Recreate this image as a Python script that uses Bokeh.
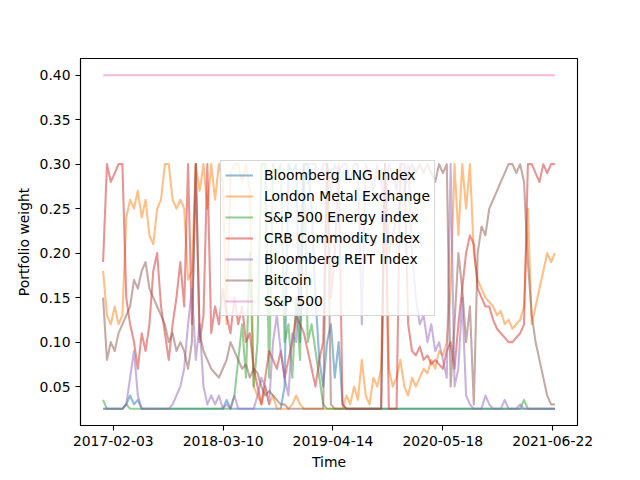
import pandas as pd
from bokeh.plotting import figure
from bokeh.models import (FixedTicker, DatetimeTickFormatter, Legend, LegendItem,
                          Range1d, NumeralTickFormatter)
from bokeh.embed import file_html
from bokeh.resources import INLINE

# ---------------- data ----------------
start_date = "2016-12-28"
end_date = "2021-06-30"
n_points = 118
dates = pd.date_range(start_date, end_date, periods=n_points)

x_tick_labels = ["2017-02-03", "2018-03-10", "2019-04-14", "2020-05-18", "2021-06-22"]
y_tick_values = [0.05, 0.10, 0.15, 0.20, 0.25, 0.30, 0.35, 0.40]

lng = [
    0.025, 0.025, 0.025, 0.025, 0.025, 0.025, 0.03, 0.04, 0.03, 0.035,
    0.025, 0.025, 0.025, 0.025, 0.025, 0.025, 0.025, 0.025, 0.025, 0.025,
    0.025, 0.025, 0.025, 0.025, 0.025, 0.025, 0.025, 0.025, 0.025, 0.025,
    0.025, 0.025, 0.035, 0.025, 0.025, 0.025, 0.025, 0.025, 0.025, 0.025,
    0.025, 0.025, 0.025, 0.025, 0.025, 0.025, 0.025, 0.05, 0.30, 0.29,
    0.30, 0.10, 0.30, 0.30, 0.25, 0.15, 0.08, 0.05, 0.10, 0.12,
    0.06, 0.10, 0.03, 0.025, 0.025, 0.025, 0.025, 0.025, 0.025, 0.025,
    0.025, 0.025, 0.025, 0.025, 0.025, 0.025, 0.025, 0.025, 0.025, 0.025,
    0.025, 0.025, 0.025, 0.025, 0.025, 0.025, 0.025, 0.025, 0.025, 0.025,
    0.025, 0.025, 0.025, 0.025, 0.025, 0.025, 0.025, 0.025, 0.025, 0.025,
    0.025, 0.025, 0.025, 0.025, 0.025, 0.025, 0.025, 0.025, 0.025, 0.025,
    0.025, 0.025, 0.025, 0.025, 0.025, 0.025, 0.025, 0.025,
]

lme = [
    0.18, 0.13, 0.12, 0.14, 0.12, 0.13, 0.24, 0.26, 0.25, 0.27,
    0.24, 0.26, 0.22, 0.21, 0.25, 0.26, 0.30, 0.30, 0.26, 0.25,
    0.26, 0.25, 0.17, 0.18, 0.30, 0.27, 0.30, 0.25, 0.30, 0.26,
    0.30, 0.28, 0.12, 0.29, 0.30, 0.30, 0.28, 0.30, 0.27, 0.05,
    0.04, 0.03, 0.05, 0.03, 0.04, 0.025, 0.025, 0.025, 0.025, 0.03,
    0.04, 0.03, 0.025, 0.025, 0.025, 0.025, 0.025, 0.025, 0.025, 0.025,
    0.025, 0.025, 0.025, 0.04, 0.03, 0.05, 0.035, 0.08, 0.04, 0.03,
    0.06, 0.05, 0.07, 0.30, 0.07, 0.05, 0.06, 0.08, 0.05, 0.04,
    0.06, 0.05, 0.06, 0.07, 0.065, 0.08, 0.07, 0.09, 0.085, 0.10,
    0.16, 0.30, 0.22, 0.30, 0.25, 0.30, 0.20, 0.17, 0.16, 0.15,
    0.145, 0.14, 0.13, 0.135, 0.12, 0.125, 0.115, 0.12, 0.125, 0.14,
    0.25, 0.12, 0.14, 0.16, 0.18, 0.20, 0.19, 0.20,
]

energy = [
    0.035, 0.025, 0.025, 0.025, 0.025, 0.025, 0.03, 0.025, 0.025, 0.025,
    0.025, 0.025, 0.025, 0.025, 0.025, 0.025, 0.025, 0.025, 0.025, 0.025,
    0.025, 0.025, 0.025, 0.025, 0.025, 0.025, 0.025, 0.025, 0.025, 0.025,
    0.025, 0.025, 0.025, 0.025, 0.04, 0.08, 0.12, 0.06, 0.20, 0.05,
    0.10, 0.30, 0.30, 0.06, 0.30, 0.29, 0.30, 0.10, 0.12, 0.06,
    0.15, 0.08, 0.30, 0.10, 0.12, 0.09, 0.06, 0.03, 0.025, 0.025,
    0.025, 0.025, 0.025, 0.025, 0.025, 0.025, 0.025, 0.025, 0.025, 0.025,
    0.025, 0.025, 0.025, 0.025, 0.025, 0.025, 0.025, 0.025, 0.025, 0.025,
    0.025, 0.025, 0.025, 0.025, 0.025, 0.025, 0.025, 0.025, 0.025, 0.025,
    0.025, 0.025, 0.025, 0.025, 0.025, 0.025, 0.025, 0.025, 0.025, 0.025,
    0.025, 0.025, 0.025, 0.025, 0.025, 0.025, 0.025, 0.025, 0.025, 0.035,
    0.025, 0.025, 0.025, 0.025, 0.025, 0.025, 0.025, 0.025,
]

crb = [
    0.19, 0.30, 0.28, 0.29, 0.30, 0.30, 0.15, 0.12, 0.10, 0.07,
    0.11, 0.09, 0.12, 0.18, 0.20, 0.14, 0.11, 0.08, 0.12, 0.15,
    0.19, 0.14, 0.30, 0.12, 0.30, 0.10, 0.13, 0.30, 0.11, 0.14,
    0.12, 0.16, 0.13, 0.11, 0.15, 0.12, 0.14, 0.10, 0.11, 0.07,
    0.05, 0.03, 0.06, 0.09, 0.08, 0.07, 0.09, 0.06, 0.08, 0.10,
    0.13, 0.12, 0.11, 0.09, 0.07, 0.05, 0.08, 0.10, 0.30, 0.15,
    0.20, 0.30, 0.03, 0.025, 0.025, 0.025, 0.025, 0.025, 0.025, 0.025,
    0.025, 0.025, 0.025, 0.30, 0.025, 0.025, 0.025, 0.30, 0.30, 0.12,
    0.09, 0.085, 0.095, 0.08, 0.085, 0.075, 0.08, 0.075, 0.07, 0.09,
    0.10, 0.07, 0.12, 0.16, 0.20, 0.22, 0.21, 0.16, 0.15, 0.14,
    0.14, 0.125, 0.115, 0.11, 0.105, 0.10, 0.10, 0.105, 0.11, 0.12,
    0.30, 0.30, 0.29, 0.28, 0.30, 0.29, 0.30, 0.30,
]

reit = [
    0.025, 0.025, 0.025, 0.025, 0.025, 0.025, 0.03, 0.06, 0.09, 0.04,
    0.025, 0.025, 0.025, 0.025, 0.025, 0.025, 0.025, 0.025, 0.03, 0.04,
    0.05, 0.07, 0.12, 0.16, 0.08, 0.12, 0.05, 0.03, 0.04, 0.03,
    0.04, 0.025, 0.03, 0.025, 0.04, 0.025, 0.025, 0.025, 0.025, 0.025,
    0.04, 0.06, 0.05, 0.03, 0.10, 0.13, 0.09, 0.06, 0.04, 0.11,
    0.10, 0.20, 0.30, 0.30, 0.30, 0.30, 0.28, 0.30, 0.30, 0.27,
    0.30, 0.29, 0.30, 0.30, 0.28, 0.30, 0.30, 0.12, 0.30, 0.29,
    0.27, 0.30, 0.28, 0.25, 0.30, 0.29, 0.27, 0.30, 0.28, 0.30,
    0.20, 0.15, 0.12, 0.13, 0.10, 0.12, 0.09, 0.10, 0.08, 0.06,
    0.30, 0.05, 0.07, 0.15, 0.04, 0.03, 0.025, 0.025, 0.025, 0.04,
    0.03, 0.025, 0.025, 0.025, 0.035, 0.025, 0.025, 0.025, 0.03, 0.025,
    0.025, 0.025, 0.025, 0.025, 0.025, 0.025, 0.025, 0.025,
]

bitcoin = [
    0.15, 0.08, 0.10, 0.09, 0.11, 0.12, 0.13, 0.14, 0.17, 0.16,
    0.18, 0.19, 0.16, 0.15, 0.14, 0.13, 0.12, 0.10, 0.11, 0.09,
    0.10, 0.09, 0.07, 0.10, 0.30, 0.11, 0.09, 0.08, 0.07, 0.065,
    0.06, 0.07, 0.08, 0.10, 0.09, 0.08, 0.07, 0.075, 0.06, 0.07,
    0.065, 0.05, 0.04, 0.045, 0.04, 0.035, 0.03, 0.03, 0.025, 0.025,
    0.025, 0.025, 0.025, 0.025, 0.025, 0.025, 0.025, 0.025, 0.30, 0.03,
    0.025, 0.025, 0.025, 0.025, 0.025, 0.025, 0.025, 0.025, 0.025, 0.025,
    0.025, 0.025, 0.025, 0.30, 0.20, 0.22, 0.24, 0.26, 0.27, 0.29,
    0.30, 0.29, 0.30, 0.29, 0.30, 0.29, 0.28, 0.30, 0.29, 0.30,
    0.05, 0.12, 0.20, 0.16, 0.10, 0.14, 0.03, 0.20, 0.23, 0.22,
    0.25, 0.26, 0.27, 0.28, 0.29, 0.30, 0.30, 0.29, 0.30, 0.28,
    0.19, 0.13, 0.10, 0.08, 0.06, 0.04, 0.03, 0.03,
]

sp500 = [
    0.40, 0.40, 0.40, 0.40, 0.40, 0.40, 0.40, 0.40, 0.40, 0.40,
    0.40, 0.40, 0.40, 0.40, 0.40, 0.40, 0.40, 0.40, 0.40, 0.40,
    0.40, 0.40, 0.40, 0.40, 0.40, 0.40, 0.40, 0.40, 0.40, 0.40,
    0.40, 0.40, 0.40, 0.40, 0.40, 0.40, 0.40, 0.40, 0.40, 0.40,
    0.40, 0.40, 0.40, 0.40, 0.40, 0.40, 0.40, 0.40, 0.40, 0.40,
    0.40, 0.40, 0.40, 0.40, 0.40, 0.40, 0.40, 0.40, 0.40, 0.40,
    0.40, 0.40, 0.40, 0.40, 0.40, 0.40, 0.40, 0.40, 0.40, 0.40,
    0.40, 0.40, 0.40, 0.40, 0.40, 0.40, 0.40, 0.40, 0.40, 0.40,
    0.40, 0.40, 0.40, 0.40, 0.40, 0.40, 0.40, 0.40, 0.40, 0.40,
    0.40, 0.40, 0.40, 0.40, 0.40, 0.40, 0.40, 0.40, 0.40, 0.40,
    0.40, 0.40, 0.40, 0.40, 0.40, 0.40, 0.40, 0.40, 0.40, 0.40,
    0.40, 0.40, 0.40, 0.40, 0.40, 0.40, 0.40, 0.40,
]

series_names = ["Bloomberg LNG Index", "London Metal Exchange", "S&P 500 Energy index",
                "CRB Commodity Index", "Bloomberg REIT Index", "Bitcoin", "S&P 500"]
series_values = [lng, lme, energy, crb, reit, bitcoin, sp500]
series_colors = ["#1f77b4", "#ff7f0e", "#2ca02c", "#d62728", "#9467bd", "#8c564b", "#e377c2"]

# ---------------- figure ----------------
FONT = "DejaVu Sans"
FS = "13.9px"

t0 = pd.Timestamp(start_date)
t1 = pd.Timestamp(end_date)
pad = (t1 - t0) * 0.05
all_vals = [v for s in series_values for v in s]
vmin, vmax = min(all_vals), max(all_vals)
vpad = (vmax - vmin) * 0.05

p = figure(width=632, height=472, output_backend="svg", toolbar_location=None,
           x_axis_type="datetime",
           x_range=Range1d(t0 - pad, t1 + pad),
           y_range=Range1d(vmin - vpad, vmax + vpad),
           min_border_left=80, min_border_right=55, min_border_top=58, min_border_bottom=45)

p.xgrid.visible = False
p.ygrid.visible = False
p.outline_line_color = "black"
p.outline_line_width = 1.1
p.background_fill_color = "white"
p.border_fill_color = "white"

renderers = []
for name, vals, col in zip(series_names, series_values, series_colors):
    r = p.line(dates, vals, line_color=col, line_alpha=0.5, line_width=2.08,
               line_join="round")
    renderers.append((name, r))

tick_ms = [pd.Timestamp(t).value // 10**6 for t in x_tick_labels]
p.xaxis.ticker = FixedTicker(ticks=tick_ms)
fmt = "%Y-%m-%d"
p.xaxis.formatter = DatetimeTickFormatter(
    microseconds=fmt, milliseconds=fmt, seconds=fmt, minsec=fmt, minutes=fmt,
    hourmin=fmt, hours=fmt, days=fmt, months=fmt, years=fmt)
p.yaxis.ticker = FixedTicker(ticks=y_tick_values)
p.yaxis.formatter = NumeralTickFormatter(format="0.00")

for ax in (p.xaxis, p.yaxis):
    ax.axis_line_color = "black"
    ax.axis_line_width = 1.1
    ax.major_tick_line_color = "black"
    ax.major_tick_line_width = 1.1
    ax.major_tick_in = 0
    ax.major_tick_out = 5
    ax.minor_tick_line_color = None
    ax.major_label_text_font = FONT
    ax.major_label_text_font_size = FS
    ax.major_label_text_color = "black"
    ax.major_label_standoff = 5
    ax.axis_label_text_font = FONT
    ax.axis_label_text_font_size = FS
    ax.axis_label_text_font_style = "normal"
    ax.axis_label_text_color = "black"
    ax.axis_label_standoff = 5

p.xaxis.axis_label = "Time"
p.yaxis.axis_label = "Portfolio weight"

legend = Legend(items=[LegendItem(label=n, renderers=[r]) for n, r in renderers],
                location=(140, 109))
legend.label_text_font = FONT
legend.label_text_font_size = FS
legend.label_text_color = "black"
legend.glyph_width = 28
legend.glyph_height = 20
legend.label_height = 20
legend.label_standoff = 11
legend.spacing = 1
legend.padding = 4
legend.margin = 0
legend.border_line_color = "#cccccc"
legend.border_line_alpha = 0.8
legend.background_fill_color = "white"
legend.background_fill_alpha = 0.8
p.add_layout(legend, "center")

html = file_html(p, INLINE)
open("out.html", "w").write(html)
